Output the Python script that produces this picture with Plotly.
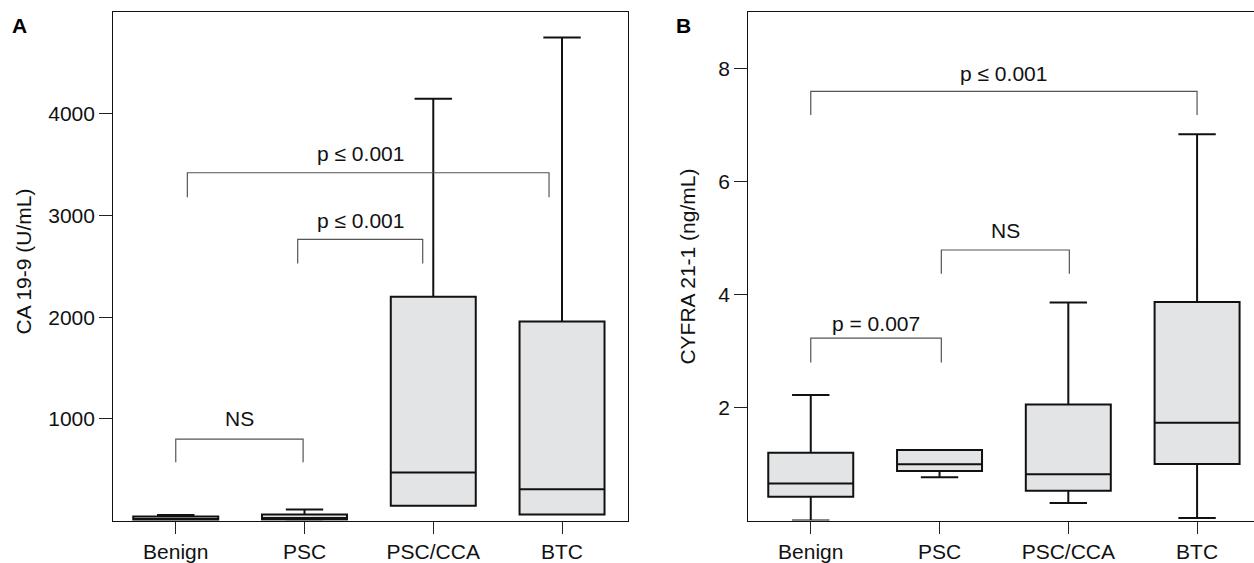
import plotly.graph_objects as go

# ---------------- data ----------------
categories = ["Benign", "PSC", "PSC/CCA", "BTC"]
positions = [1, 2, 3, 4]

# Panel A: CA 19-9 (U/mL)
ca_lower = [0, 0, 147, 59]
ca_q1 = [3, 8, 147, 59]
ca_median = [15, 25, 472, 309]
ca_q3 = [39, 59, 2202, 1958]
ca_upper = [55, 110, 4148, 4751]
ca_ticks = [1000, 2000, 3000, 4000]

# Panel B: CYFRA 21-1 (ng/mL)
cy_lower = [0.0, 0.766, 0.31, 0.046]
cy_q1 = [0.42, 0.879, 0.527, 1.00]
cy_median = [0.656, 0.995, 0.82, 1.73]
cy_q3 = [1.20, 1.248, 2.056, 3.87]
cy_upper = [2.225, 1.248, 3.86, 6.84]
cy_ticks = [2, 4, 6, 8]

# significance labels
sig_a = ["NS", "p ≤ 0.001", "p ≤ 0.001"]
sig_b = ["p = 0.007", "NS", "p ≤ 0.001"]

# ---------------- layout geometry ----------------
W, H = 1254, 563
FONT = "Liberation Sans, Arial, Helvetica, sans-serif"
FS = 21

def px_x(p):
    return p / W

def px_y(p):
    return 1 - p / H

# bracket geometry: (x_left, x_right, y_bar, y_leg, text_x, text_y)
brackets_a = [
    (1.0, 1.989, 801, 573, 1.494, 1003),
    (1.947, 2.918, 2766, 2528, 2.431, 2955),
    (1.090, 3.899, 3421, 3180, 2.431, 3609),
]
brackets_b = [
    (1.0, 2.014, 3.23, 2.80, 1.506, 3.49),
    (2.014, 3.008, 4.79, 4.37, 2.509, 5.14),
    (1.0, 4.0, 7.60, 7.18, 2.493, 7.92),
]

fig = go.Figure()

box_style = dict(
    width=0.66,
    whiskerwidth=0.44,
    fillcolor="#e3e4e6",
    line=dict(color="#111111", width=2),
    boxpoints=False,
    showlegend=False,
    hoverinfo="skip",
)

fig.add_trace(go.Box(
    x=positions, q1=ca_q1, median=ca_median, q3=ca_q3,
    lowerfence=ca_lower, upperfence=ca_upper,
    xaxis="x", yaxis="y", **box_style))

fig.add_trace(go.Box(
    x=positions, q1=cy_q1, median=cy_median, q3=cy_q3,
    lowerfence=cy_lower, upperfence=cy_upper,
    xaxis="x2", yaxis="y2", **box_style))

annotations = []
for (brs, labels, xa, ya) in [(brackets_a, sig_a, "x", "y"), (brackets_b, sig_b, "x2", "y2")]:
    for (xl, xr, yb, yl, tx, ty), lab in zip(brs, labels):
        fig.add_trace(go.Scatter(
            x=[xl, xl, xr, xr], y=[yl, yb, yb, yl],
            mode="lines", line=dict(color="#555555", width=1.2),
            xaxis=xa, yaxis=ya, showlegend=False, hoverinfo="skip"))
        annotations.append(dict(
            x=tx, y=ty, xref=xa, yref=ya, text=lab, showarrow=False,
            xanchor="center", yanchor="middle",
            font=dict(family=FONT, size=FS, color="#111111")))

# axis titles and panel letters
annotations += [
    dict(x=px_x(23.3), y=px_y(263), xref="paper", yref="paper",
         text="CA 19-9 (U/mL)", textangle=-90, showarrow=False,
         xanchor="center", yanchor="middle",
         font=dict(family=FONT, size=FS, color="#111111")),
    dict(x=px_x(687.5), y=px_y(269), xref="paper", yref="paper",
         text="CYFRA 21-1 (ng/mL)", textangle=-90, showarrow=False,
         xanchor="center", yanchor="middle",
         font=dict(family=FONT, size=FS, color="#111111")),
    dict(x=px_x(19), y=px_y(25.5), xref="paper", yref="paper",
         text="<b>A</b>", showarrow=False, xanchor="center", yanchor="middle",
         font=dict(family=FONT, size=FS, color="#000000")),
    dict(x=px_x(683), y=px_y(25.5), xref="paper", yref="paper",
         text="<b>B</b>", showarrow=False, xanchor="center", yanchor="middle",
         font=dict(family=FONT, size=FS, color="#000000")),
]

xaxis_common = dict(
    tickmode="array", tickvals=positions, ticktext=categories,
    ticks="outside", ticklen=12, tickwidth=1, tickcolor="#222222",
    showline=True, linecolor="#111111", linewidth=1.3,
    showgrid=False, zeroline=False, fixedrange=True,
    tickfont=dict(family=FONT, size=FS, color="#111111"),
)
yaxis_common = dict(
    tickmode="array",
    ticks="outside", ticklen=13, tickwidth=1, tickcolor="#222222",
    showline=True, linecolor="#111111", linewidth=1.3,
    showgrid=False, zeroline=False, fixedrange=True,
    tickfont=dict(family=FONT, size=FS, color="#111111"),
)

fig.update_layout(
    width=W, height=H,
    margin=dict(l=0, r=0, t=0, b=0),
    paper_bgcolor="white", plot_bgcolor="white",
    font=dict(family=FONT, size=FS, color="#111111"),
    xaxis=dict(domain=[px_x(113.3), px_x(627.7)], range=[0.515, 4.51],
               anchor="y", mirror=True, **xaxis_common),
    yaxis=dict(domain=[px_y(524.3), px_y(12.3)], range=[0, 5000],
               anchor="x", mirror=True, tickvals=ca_ticks,
               ticktext=[str(v) for v in ca_ticks], **yaxis_common),
    xaxis2=dict(domain=[px_x(748.3), 1.0], range=[0.515, 4.442],
                anchor="y2", mirror=True, **xaxis_common),
    yaxis2=dict(domain=[px_y(524.3), px_y(12.3)], range=[0, 9],
                anchor="x2", mirror=False, tickvals=cy_ticks,
                ticktext=[str(v) for v in cy_ticks], **yaxis_common),
    annotations=annotations,
)

fig.write_html(
    "out.html",
    config={"displayModeBar": False},
    post_script="document.body.style.margin='0';document.body.style.overflow='hidden';",
)
